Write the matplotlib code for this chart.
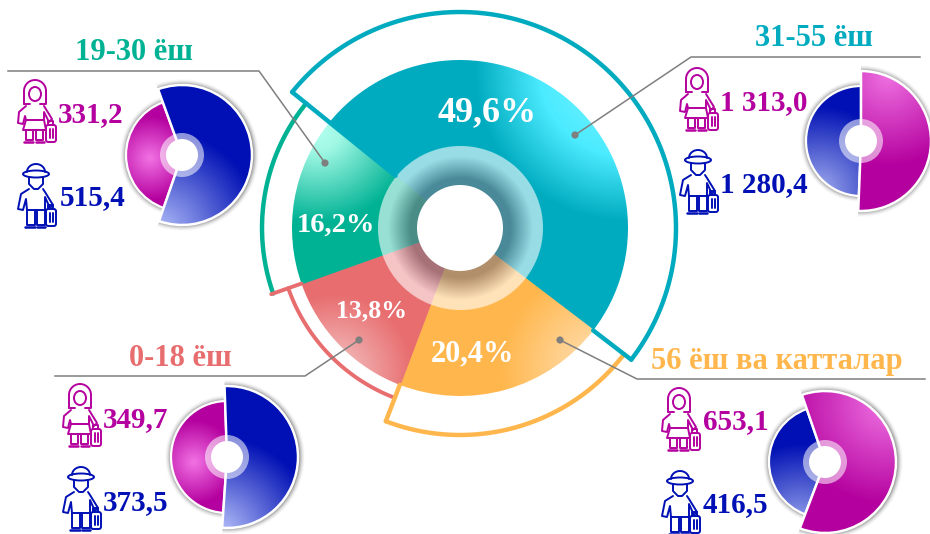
import numpy as np
import matplotlib
matplotlib.use('Agg')
import matplotlib.pyplot as plt
from matplotlib.colors import to_rgb
from matplotlib.patches import Wedge, Circle, Ellipse, FancyBboxPatch

plt.rcParams['font.family'] = ['Liberation Serif', 'DejaVu Serif']

groups = ['19-30 ёш', '31-55 ёш', '56 ёш ва катталар', '0-18 ёш']
shares = [16.2, 49.6, 20.4, 13.8]
share_labels = ['16,2%', '49,6%', '20,4%', '13,8%']
women = [331.2, 1313.0, 653.1, 349.7]
men = [515.4, 1280.4, 416.5, 373.5]
women_labels = ['331,2', '1 313,0', '653,1', '349,7']
men_labels = ['515,4', '1 280,4', '416,5', '373,5']

TEAL = '#00abbf'
GREEN = '#00b294'
RED = '#e86d6f'
ORANGE = '#ffb74d'
MAGENTA = '#b4009e'
BLUE = '#0010b4'
GREY = '#7f7f7f'
W, H = 930, 534
CX, CY = 460, 228


def radial_fill(ax, patch, gx, gy, radius, stops, box):
    # colour by distance from (gx, gy), clipped to the wedge
    x0, x1, y0, y1 = box
    xs, ys = np.meshgrid(np.arange(x0, x1) + .5, np.arange(y0, y1) + .5)
    d = np.hypot(xs - gx, ys - gy) / radius
    pos = [s[0] for s in stops]
    cols = np.array([to_rgb(s[1]) for s in stops])
    img = np.dstack([np.interp(d, pos, cols[:, i]) for i in range(3)])
    im = ax.imshow(img, extent=(x0, x1, y1, y0), interpolation='nearest', zorder=patch.get_zorder())
    patch.set_facecolor('none')
    patch.set_edgecolor('none')
    ax.add_patch(patch)
    im.set_clip_path(patch)
    return im


def wedge(cx, cy, r, a1, a2, **kw):
    # a1 -> a2 clockwise on screen, angles counted the usual way
    return Wedge((cx, cy), r, -a1, -a2, **kw)


def pol(r, a, cx=CX, cy=CY):
    t = np.radians(a)
    return cx + r * np.cos(t), cy - r * np.sin(t)


def radial_line(ax, r1, r2, a, color, lw=3.2, z=6):
    p1, p2 = pol(r1, a), pol(r2, a)
    ax.plot([p1[0], p2[0]], [p1[1], p2[1]], color=color, lw=lw, solid_capstyle='round', zorder=z)


def arc_line(ax, r, a1, a2, color, lw=3.2, z=6):
    t = np.linspace(a1, a2, 200)
    x, y = pol(r, t)
    ax.plot(x, y, color=color, lw=lw, solid_capstyle='round', zorder=z)


def shadow(ax, cx, cy, big_r, small_r, start, sweep):
    # soft grey halo that follows the two radii of the side donut
    m = big_r + 12
    xs, ys = np.meshgrid(np.arange(cx - m, cx + m) + .5, np.arange(cy - m, cy + m) + .5)
    d = np.hypot(xs - cx, ys - cy)
    ang = np.degrees(np.arctan2(cy - ys, xs - cx))
    inside = ((start - ang) % 360) < sweep
    edge = np.where(inside, big_r, small_r)
    a = np.clip((edge + 7 - d) / 7, 0, 1) ** 2 * .45
    img = np.zeros(d.shape + (4,))
    img[..., 3] = a
    ax.imshow(img, extent=(cx - m, cx + m, cy + m, cy - m), zorder=2)


def line(ax, x0, y0, pts, color, lw=1.4, closed=False):
    xy = np.array(pts, dtype=float)
    if closed:
        xy = np.vstack([xy, xy[0]])
    ax.plot(x0 + xy[:, 0], y0 + xy[:, 1], color=color, lw=lw, solid_capstyle='round',
            solid_joinstyle='round', zorder=8)


def suitcase(ax, x0, y0, color):
    ax.add_patch(FancyBboxPatch((x0 + 28, y0 + 45), 10, 17, boxstyle='round,pad=0,rounding_size=2.2',
                                fc='none', ec=color, lw=1.4, zorder=8))
    line(ax, x0, y0, [(30, 45), (30, 41), (35, 41), (35, 45)], color)
    line(ax, x0, y0, [(31.5, 49), (31.5, 58)], color)
    line(ax, x0, y0, [(34.5, 49), (34.5, 58)], color)


def woman_icon(ax, x0, y0, color):
    t = np.radians(np.linspace(0, 180, 30))
    hair = [(6, 24)] + list(zip(17 - 11 * np.cos(t), 11 - 11 * np.sin(t))) + [(28, 24), (22, 24)]
    line(ax, x0, y0, hair, color)
    ax.add_patch(Ellipse((x0 + 17, y0 + 14), 12, 14, fc='none', ec=color, lw=1.4, zorder=8))
    line(ax, x0, y0, [(6, 24), (12, 24)], color)
    line(ax, x0, y0, [(8, 26), (1, 32), (0, 43), (5, 44), (7, 36), (8, 40), (26, 40), (26, 32),
                      (31, 42), (34, 39), (26, 26)], color)
    line(ax, x0, y0, [(8, 40), (5, 50), (28, 50), (26, 40)], color)
    line(ax, x0, y0, [(8, 50), (8, 60), (15, 60), (15, 50)], color)
    line(ax, x0, y0, [(18, 50), (18, 60), (25, 60), (25, 50)], color)
    line(ax, x0, y0, [(6, 62), (15, 62)], color, lw=1.8)
    line(ax, x0, y0, [(18, 62), (26, 62)], color, lw=1.8)
    suitcase(ax, x0, y0, color)


def man_icon(ax, x0, y0, color):
    ax.add_patch(Ellipse((x0 + 18, y0 + 10), 26, 7, fc='none', ec=color, lw=1.4, zorder=8))
    t = np.radians(np.linspace(0, 180, 20))
    line(ax, x0, y0, list(zip(18 - 9 * np.cos(t), 8 - 8 * np.sin(t))), color)
    line(ax, x0, y0, [(11, 13), (11, 20), (16, 25), (20, 25), (25, 20), (25, 13)], color)
    line(ax, x0, y0, [(11, 25), (3, 30), (0, 45), (5, 46), (8, 35), (9, 46), (27, 46), (27, 33),
                      (32, 44), (35, 41), (27, 28), (25, 25)], color)
    line(ax, x0, y0, [(9, 46), (9, 61), (17, 61), (17, 46)], color)
    line(ax, x0, y0, [(19, 46), (19, 61), (27, 61), (27, 46)], color)
    line(ax, x0, y0, [(7, 63), (17, 63)], color, lw=1.8)
    line(ax, x0, y0, [(19, 63), (27, 63)], color, lw=1.8)
    suitcase(ax, x0, y0, color)


def small_donut(ax, cx, cy, big_r, small_r, start, big, small, big_color, small_color, big_fill, small_fill):
    sweep = 360 * big / (big + small)
    shadow(ax, cx, cy, big_r, small_r, start, sweep)
    box = (cx - 75, cx + 75, cy - 75, cy + 75)
    p = wedge(cx, cy, small_r, start - sweep, start - 360, zorder=3)
    radial_fill(ax, p, cx + small_fill[0], cy + small_fill[1], small_fill[2],
                [(0, small_fill[3]), (1, small_color)], box)
    ax.add_patch(wedge(cx, cy, small_r, start - sweep, start - 360, fc='none', ec='white', lw=1.6, zorder=3.1))
    p = wedge(cx, cy, big_r, start, start - sweep, zorder=4)
    radial_fill(ax, p, cx + big_fill[0], cy + big_fill[1], big_fill[2],
                [(0, big_fill[3]), (1, big_color)], box)
    ax.add_patch(wedge(cx, cy, big_r, start, start - sweep, fc='none', ec='white', lw=1.8, zorder=4.1))
    ax.add_patch(Circle((cx, cy), 22, fc='white', ec='none', alpha=.55, zorder=5))
    ax.add_patch(Circle((cx, cy), 16, fc='white', ec='none', zorder=5.1))


fig = plt.figure(figsize=(W / 100, H / 100), dpi=100)
ax = fig.add_axes([0, 0, 1, 1])

# main donut, clockwise from the top-left boundary
start = 141
order = [1, 2, 3, 0]
angles = {}
a = start
for i in order:
    angles[i] = (a, a - 3.6 * shares[i])
    a = angles[i][1]

fills = {
    1: (625, 70, 172, [(0, '#80f4ff'), (.5, '#4cebff'), (.88, TEAL), (1, TEAL)]),
    2: (600, 368, 100, [(0, '#ffe3bd'), (1, ORANGE)]),
    3: (335, 372, 78, [(0, '#f4c6c6'), (1, RED)]),
    0: (318, 128, 95, [(0, '#b4fff0'), (.25, '#a0f8e4'), (1, GREEN)]),
}
main_box = (CX - 175, CX + 175, CY - 175, CY + 175)
for i in order:
    gx, gy, gr, stops = fills[i]
    radial_fill(ax, wedge(CX, CY, 168, angles[i][0] + .3, angles[i][1], zorder=1), gx, gy, gr, stops, main_box)

# ring around the hole: white, turning grey toward the middle
xs, ys = np.meshgrid(np.arange(CX - 85, CX + 85) + .5, np.arange(CY - 85, CY + 85) + .5)
rho = np.hypot(xs - CX, ys - CY)
mix = np.clip((rho - 50) / 22, 0, 1)[..., None]
ring = np.dstack([np.full(rho.shape, .49), np.full(rho.shape, .46), np.full(rho.shape, .5)]) * (1 - mix) + mix
ring = np.dstack([ring, np.clip(82.5 - rho, 0, 1) * .6])
ax.imshow(ring, extent=(CX - 85, CX + 85, CY + 85, CY - 85), zorder=1.5)
ax.add_patch(Circle((CX, CY), 43, fc='white', ec='none', zorder=1.6))

# outlines
a_t, b_t = angles[1]
arc_line(ax, 216, a_t, b_t, TEAL)
radial_line(ax, 216, 168, b_t, TEAL)
radial_line(ax, 216, 83, a_t, TEAL)
a_o, b_o = angles[2]
arc_line(ax, 207, a_o, b_o, ORANGE, z=5)
radial_line(ax, 207, 168, b_o, ORANGE)
a_r, b_r = angles[3]
arc_line(ax, 182, a_r, b_r, RED, lw=2.8, z=5)
radial_line(ax, 200, 168, b_r, RED, lw=2.8)
a_g, b_g = angles[0]
arc_line(ax, 198, a_g, b_g, GREEN, z=5)

label_pos = {1: (487, 113), 0: (336, 225), 3: (371, 311), 2: (472, 354)}
label_size = {1: 26, 0: 20.5, 3: 18.5, 2: 22}
for i in label_pos:
    x, y = label_pos[i]
    ax.text(x, y, share_labels[i], color='white', fontsize=label_size[i], fontweight='bold',
            ha='center', va='center', zorder=7)

# leaders
leaders = [
    [(8, 71), (259, 71), (325, 163)],
    [(920, 57), (691, 57), (575, 135)],
    [(55, 376), (305, 376), (359, 340)],
    [(925, 379), (637, 379), (560, 340)],
]
for pts in leaders:
    xy = np.array(pts)
    ax.plot(xy[:, 0], xy[:, 1], color=GREY, lw=1.1, zorder=6.5)
    ax.add_patch(Circle(pts[-1], 3.6, fc=GREY, ec='none', zorder=6.5))

group_pos = [(134, 53), (814, 38), (777, 362), (180, 358)]
group_col = [GREEN, TEAL, ORANGE, RED]
for g, pos, c in zip(groups, group_pos, group_col):
    ax.text(pos[0], pos[1], g, color=c, fontsize=22, fontweight='bold', ha='center', va='center')

# side donuts: centre, start angle, big colour first
small_donut(ax, 182, 155, 70, 56, 110, men[0], women[0], BLUE, MAGENTA,
            (-22, 75, 100, '#b0bcf8'), (-32, 3, 42, '#f272e4'))
small_donut(ax, 861, 141, 70, 55, 90, women[1], men[1], MAGENTA, BLUE,
            (27, -65, 90, '#ee70e0'), (-42, 50, 85, '#a0aced'))
small_donut(ax, 825, 462, 71, 56, 109, women[2], men[2], MAGENTA, BLUE,
            (60, -58, 100, '#ef72e2'), (-25, 62, 80, '#98a4ec'))
small_donut(ax, 227, 457, 71, 56, 92, men[3], women[3], BLUE, MAGENTA,
            (-8, 75, 95, '#b8c2fa'), (-33, 5, 42, '#f272e4'))

icon_pos = [((18, 80), (18, 164)), ((680, 68), (680, 150)), ((662, 388), (662, 471)), ((63, 384), (63, 467))]
text_pos = [((58, 115), (60, 198)), ((720, 103), (720, 185)), ((703, 422), (703, 505)), ((103, 420), (103, 503))]
for i in range(4):
    (wx, wy), (mx, my) = icon_pos[i]
    woman_icon(ax, wx, wy, MAGENTA)
    man_icon(ax, mx, my, BLUE)
    (tx, ty), (ux, uy) = text_pos[i]
    ax.text(tx, ty, women_labels[i], color=MAGENTA, fontsize=21, fontweight='bold', va='center', zorder=9)
    ax.text(ux, uy, men_labels[i], color=BLUE, fontsize=21, fontweight='bold', va='center', zorder=9)

ax.set_xlim(0, W)
ax.set_ylim(H, 0)
ax.set_aspect('auto')
ax.axis('off')
fig.savefig('out.png', dpi=100)
